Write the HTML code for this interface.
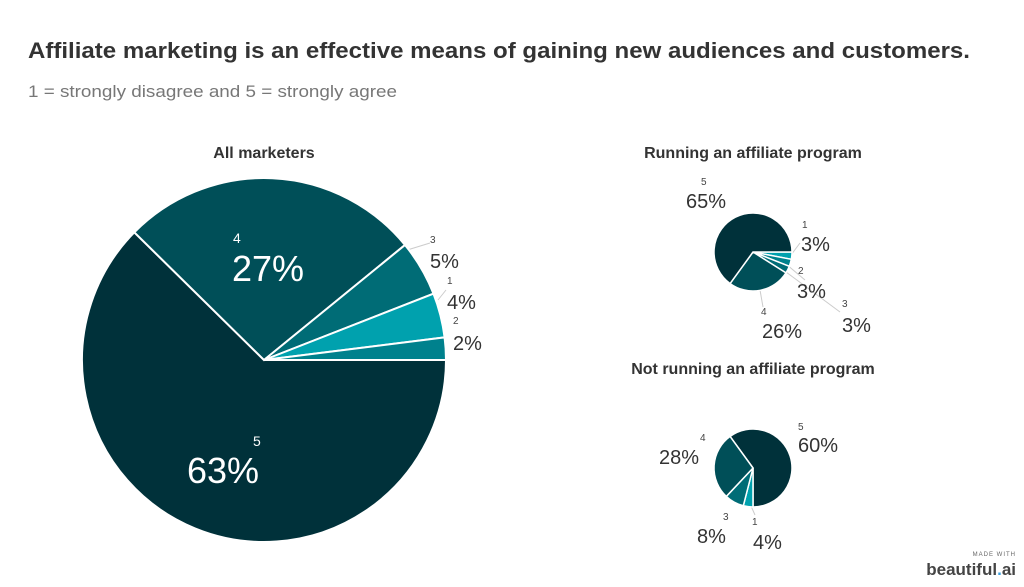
<!DOCTYPE html>
<html><head><meta charset="utf-8"><style>
html,body{margin:0;padding:0;background:#fff;width:1024px;height:587px;overflow:hidden}
svg{display:block;font-family:"Liberation Sans",sans-serif}
</style></head><body>
<svg id="chart" width="1024" height="587" viewBox="0 0 1024 587">
<text x="28" y="58" font-size="22" font-weight="bold" fill="#333" textLength="942" lengthAdjust="spacingAndGlyphs">Affiliate marketing is an effective means of gaining new audiences and customers.</text>
<text x="28" y="97" font-size="17" fill="#777" textLength="369" lengthAdjust="spacingAndGlyphs">1 = strongly disagree and  5 = strongly agree</text>
<text x="264" y="158" font-size="16" font-weight="bold" fill="#333" text-anchor="middle">All marketers</text>
<text x="753" y="158" font-size="16" font-weight="bold" fill="#333" text-anchor="middle">Running an affiliate program</text>
<text x="753" y="374" font-size="16" font-weight="bold" fill="#333" text-anchor="middle">Not running an affiliate program</text>
<g id="leaders" stroke="#ccc" stroke-width="1" fill="none">
<line x1="430" y1="243" x2="404" y2="251"/>
<line x1="446" y1="290" x2="438" y2="300"/>
<line x1="791" y1="255" x2="800" y2="243"/>
<line x1="786" y1="264" x2="805" y2="280"/>
<line x1="782" y1="269" x2="840" y2="312"/>
<line x1="760" y1="290" x2="763" y2="307"/>
<line x1="751" y1="506" x2="755" y2="515"/>
</g>
<g id="pies"></g>
<text x="1016" y="556" font-size="6" fill="#666" text-anchor="end" letter-spacing="1">MADE WITH</text>
<text x="1016" y="575" font-size="17" font-weight="bold" fill="#444" text-anchor="end">beautiful<tspan fill="#3aa0e0">.</tspan>ai</text>
</svg>
<script>
const allCats = ["5","4","3","1","2"];
const allVals = [63,27,5,4,2];
const runCats = ["1","2","3","4","5"];
const runVals = [3,3,3,26,65];
const notCats = ["5","1","3","4"];
const notVals = [60,4,8,28];
const colors = {"5":"#00313a","4":"#004f58","3":"#006c76","2":"#00818d","1":"#00a1ae"};
const NS = "http://www.w3.org/2000/svg";
const g = document.getElementById('pies');
function pt(cx,cy,r,a){const t=a*Math.PI/180;return [cx+r*Math.cos(t),cy+r*Math.sin(t)];}
function drawPie(name,cats,vals,cx,cy,r,start,labels,big){
  const tot = vals.reduce((a,b)=>a+b,0);
  let a = start;
  cats.forEach((c,i)=>{
    const sweep = vals[i]/tot*360;
    const a2 = a+sweep;
    const p1 = pt(cx,cy,r,a), p2 = pt(cx,cy,r,a2);
    const large = sweep>180?1:0;
    const path = document.createElementNS(NS,'path');
    path.setAttribute('d',`M${cx},${cy}L${p1[0]},${p1[1]}A${r},${r} 0 ${large} 1 ${p2[0]},${p2[1]}Z`);
    path.setAttribute('fill',colors[c]);
    path.setAttribute('stroke','#fff');
    path.setAttribute('stroke-width', big?2:1.5);
    
    
    g.appendChild(path);
    const L = labels[i];
    const t1 = document.createElementNS(NS,'text');
    t1.setAttribute('x',L[0]); t1.setAttribute('y',L[1]);
    t1.setAttribute('font-size', L[4]?14:10);
    t1.setAttribute('fill', L[4]?'#fff':'#444');
    t1.textContent = c;
    
    
    g.appendChild(t1);
    const t2 = document.createElementNS(NS,'text');
    t2.setAttribute('x',L[2]); t2.setAttribute('y',L[3]);
    t2.setAttribute('font-size', L[4]?36:20);
    t2.setAttribute('fill', L[4]?'#fff':'#333');
    t2.textContent = vals[i]+'%';
    
    
    g.appendChild(t2);
    a = a2;
  });
}
drawPie('all',allCats,allVals,264,360,182,0,
  [[253,446,187,483,1],[233,243,232,281,1],[430,243,430,268],[447,284,447,309],[453,324,453,350]],true);
drawPie('run',runCats,runVals,753,252,39,0,
  [[802,228,801,251],[798,274,797,298],[842,307,842,332],[761,315,762,338],[701,185,686,208]],false);
drawPie('not',notCats,notVals,753,468,39,-126,
  [[798,430,798,452],[752,525,753,549],[723,520,697,543],[700,441,659,464]],false);
</script>
</body></html>
